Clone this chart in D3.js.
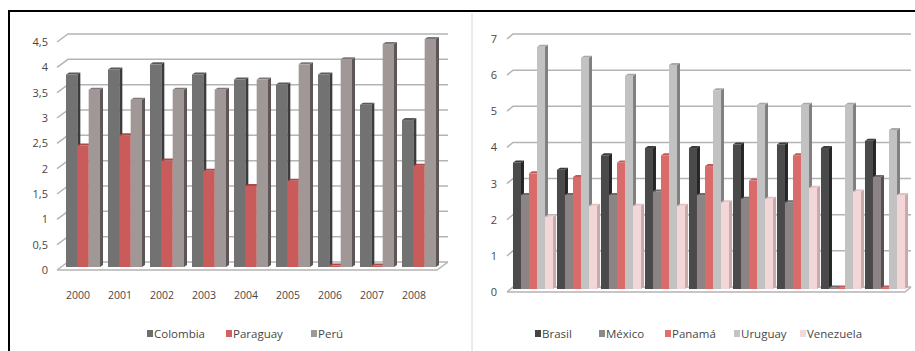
<!DOCTYPE html>
<html>
<head>
<meta charset="utf-8">
<script src="https://cdn.jsdelivr.net/npm/d3@7"></script>
<style>
  body { margin: 0; background: #fff; }
  text { font-family: "Open Sans", "Liberation Sans", sans-serif; fill: #474747; }
</style>
</head>
<body>
<script>
// ---- data ----
var years = ["2000", "2001", "2002", "2003", "2004", "2005", "2006", "2007", "2008"];
var leftSeries = ["Colombia", "Paraguay", "Perú"];
var colombia = [3.8, 3.9, 4.0, 3.8, 3.7, 3.6, 3.8, 3.2, 2.9];
var paraguay = [2.4, 2.6, 2.1, 1.9, 1.6, 1.7, 0, 0, 2.0];
var peru     = [3.5, 3.3, 3.5, 3.5, 3.7, 4.0, 4.1, 4.4, 4.5];
var leftTicks = [0, 0.5, 1, 1.5, 2, 2.5, 3, 3.5, 4, 4.5];

var rightSeries = ["Brasil", "México", "Panamá", "Uruguay", "Venezuela"];
var brasil    = [3.5, 3.3, 3.7, 3.9, 3.9, 4.0, 4.0, 3.9, 4.1];
var mexico    = [2.6, 2.6, 2.6, 2.7, 2.6, 2.5, 2.4, 0, 3.1];
var panama    = [3.2, 3.1, 3.5, 3.7, 3.4, 3.0, 3.7, 0, 0];
var uruguay   = [6.7, 6.4, 5.9, 6.2, 5.5, 5.1, 5.1, 5.1, 4.4];
var venezuela = [2.0, 2.3, 2.3, 2.3, 2.4, 2.5, 2.8, 2.7, 2.6];
var rightTicks = [0, 1, 2, 3, 4, 5, 6, 7];

var W = 915, H = 351;
var svg = d3.select("body").append("svg").attr("width", W).attr("height", H);

// frame
svg.append("line").attr("x1", 9).attr("x2", W).attr("y1", 11).attr("y2", 11)
  .attr("stroke", "#000").attr("stroke-width", 2);
svg.append("line").attr("x1", 9).attr("x2", 9).attr("y1", 10).attr("y2", H)
  .attr("stroke", "#000").attr("stroke-width", 2);
svg.append("line").attr("x1", 472).attr("x2", 472).attr("y1", 13).attr("y2", H)
  .attr("stroke", "#d8d8d8").attr("stroke-width", 1);

function drawChart(cfg) {
  var g = svg.append("g");
  var dx = cfg.dx, dy = cfg.dy;

  var x = d3.scaleBand().domain(years).range(cfg.xRange)
    .paddingInner(cfg.padIn).paddingOuter(cfg.padOut);
  var xi = d3.scaleBand().domain(cfg.series).range([0, x.bandwidth()]);
  var y = d3.scaleLinear().domain([0, cfg.max]).range([cfg.y0, cfg.yTop]);

  // back wall gridlines with perspective diagonal
  cfg.ticks.forEach(function(t) {
    var yy = y(t);
    g.append("path")
      .attr("d", "M" + cfg.floorX0 + "," + yy + "L" + (cfg.floorX0 + dx) + "," + (yy + dy) +
                 "L" + (cfg.floorX1 + dx) + "," + (yy + dy))
      .attr("fill", "none").attr("stroke", "#b4b4b4").attr("stroke-width", 1.5);
  });
  // floor front edge
  g.append("path")
    .attr("d", "M" + cfg.floorX0 + "," + y(0) + "L" + cfg.floorX1 + "," + y(0) +
               "L" + (cfg.floorX1 + dx) + "," + (y(0) + dy))
    .attr("fill", "none").attr("stroke", "#b4b4b4").attr("stroke-width", 1.5);

  // y tick labels
  g.selectAll(".ylab").data(cfg.ticks).enter().append("text")
    .attr("x", cfg.labelX).attr("y", function(d) { return y(d) + 4; })
    .attr("text-anchor", "end").attr("font-size", 11)
    .text(function(d) { return String(d).replace(".", ","); });

  // bars (front face + dark side + top)
  var by = function(v) { return y(v) - cfg.barLift; };
  cfg.series.forEach(function(s, si) {
    var vals = cfg.values[si];
    var col = cfg.colors[si];
    years.forEach(function(yr, i) {
      var v = vals[i];
      var bx = x(yr) + xi(s);
      var bw = xi.bandwidth();
      var top = Math.min(by(v), by(0) - 1.5);
      var bot = by(0);
      g.append("path")
        .attr("d", "M" + (bx + bw) + "," + top + "L" + (bx + bw + 3) + "," + (top - 2) +
                   "L" + (bx + bw + 3) + "," + (bot - 2) + "L" + (bx + bw) + "," + bot + "Z")
        .attr("fill", col.side);
      g.append("path")
        .attr("d", "M" + bx + "," + top + "L" + (bx + 3) + "," + (top - 2) +
                   "L" + (bx + bw + 3) + "," + (top - 2) + "L" + (bx + bw) + "," + top + "Z")
        .attr("fill", col.top);
      g.append("rect").attr("x", bx).attr("y", top).attr("width", bw)
        .attr("height", bot - top).attr("fill", col.front);
    });
  });

  // x labels
  if (cfg.showX) {
    g.selectAll(".xlab").data(years).enter().append("text")
      .attr("x", function(d) { return x(d) + x.bandwidth() / 2 - 5; })
      .attr("y", cfg.y0 + 29).attr("text-anchor", "middle").attr("font-size", 10.5)
      .text(function(d) { return d; });
  }

  // legend
  cfg.series.forEach(function(s, si) {
    var lx = cfg.legendX[si];
    g.append("rect").attr("x", lx).attr("y", 330).attr("width", 6).attr("height", 7)
      .attr("fill", cfg.colors[si].legend);
    g.append("text").attr("x", lx + 7).attr("y", 338).attr("font-size", 11.5).text(s);
  });
}

drawChart({
  series: leftSeries,
  values: [colombia, paraguay, peru],
  colors: [
    { front: "#727272", side: "#3c3c3c", top: "#5a5a5a", legend: "#6e6e6e" },
    { front: "#c95b5b", side: "#8c3c3c", top: "#a84a4a", legend: "#d06262" },
    { front: "#a09797", side: "#5e5656", top: "#807878", legend: "#9a9a9a" }
  ],
  ticks: leftTicks, max: 4.5,
  y0: 270, yTop: 42, barLift: 3, dx: 11, dy: -8,
  xRange: [62, 440], padIn: 0.19, padOut: 0.095,
  floorX0: 57, floorX1: 437, labelX: 48, showX: true,
  legendX: [147, 226, 311]
});

drawChart({
  series: rightSeries,
  values: [brasil, mexico, panama, uruguay, venezuela],
  colors: [
    { front: "#4a4a4a", side: "#262626", top: "#3a3a3a", legend: "#444" },
    { front: "#8c8484", side: "#565050", top: "#706a6a", legend: "#8a8a8a" },
    { front: "#d96b6b", side: "#a04848", top: "#c05a5a", legend: "#e07070" },
    { front: "#c2c2c2", side: "#808080", top: "#a8a8a8", legend: "#c4c4c4" },
    { front: "#f3d6d8", side: "#c9aaaa", top: "#e0c2c2", legend: "#f4d8da" }
  ],
  ticks: rightTicks, max: 7,
  y0: 292, yTop: 39, barLift: 3, dx: 6, dy: -5,
  xRange: [511, 907], padIn: 0.09, padOut: 0.045,
  floorX0: 507, floorX1: 905, labelX: 497, showX: false,
  legendX: [535, 599, 665, 734, 800]
});
</script>
</body>
</html>
